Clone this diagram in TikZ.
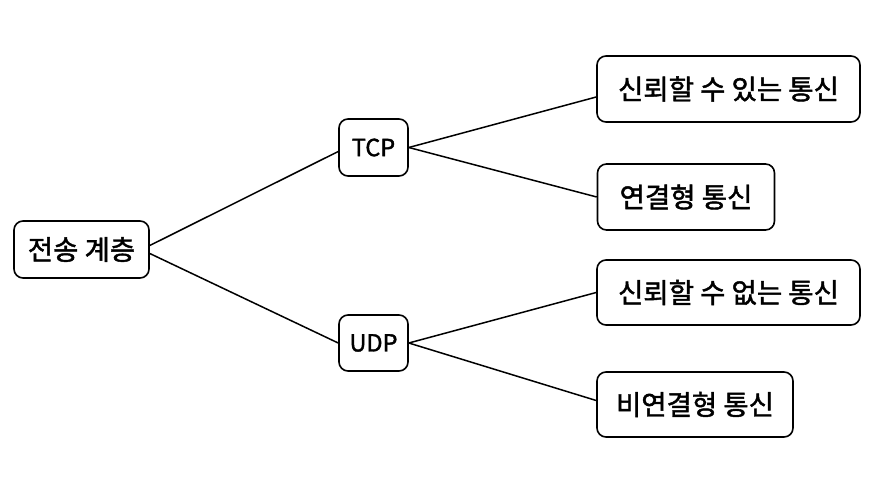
\documentclass[tikz,border=0pt]{standalone}
\usepackage{fontspec}
\setmainfont{Noto Sans CJK KR}[FakeBold=1.6]
\begin{document}
\begin{tikzpicture}[x=1pt,y=-1pt,
  box/.style={draw, line width=1.6pt, rounded corners=9pt, inner sep=0pt, font=\fontsize{27.5}{30}\selectfont},
  latin/.style={font=\fontsize{23.5}{26}\selectfont},
  link/.style={line width=1.5pt}]
\useasboundingbox (0,0) rectangle (874,486);
\fill[white] (0,0) rectangle (874,486);
\node[box, minimum width=135pt, minimum height=57pt] (root) at (81.5,249.5) {전송 계층};
\node[box, latin, minimum width=69pt, minimum height=57pt] (tcp) at (373.5,147.5) {TCP};
\node[box, latin, minimum width=69pt, minimum height=56pt] (udp) at (373.5,343) {UDP};
\node[box, minimum width=263pt, minimum height=66pt] (r1) at (728.5,89) {신뢰할 수 있는 통신};
\node[box, minimum width=177pt, minimum height=66pt] (r2) at (686,197) {연결형 통신};
\node[box, minimum width=263pt, minimum height=65pt] (r3) at (728.5,292.5) {신뢰할 수 없는 통신};
\node[box, minimum width=196pt, minimum height=65pt] (r4) at (695,404.5) {비연결형 통신};
\draw[link] ([yshift=4pt]root.east) -- ([yshift=-4pt]tcp.west);
\draw[link] ([yshift=-4pt]root.east) -- (udp.west);
\draw[link] (tcp.east) -- ([yshift=-8pt]r1.west);
\draw[link] (tcp.east) -- (r2.west);
\draw[link] (udp.east) -- (r3.west);
\draw[link] (udp.east) -- ([yshift=4pt]r4.west);
\end{tikzpicture}
\end{document}
